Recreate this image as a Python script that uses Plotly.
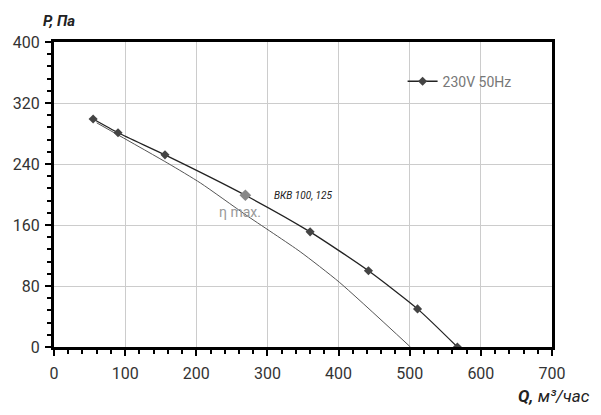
import plotly.graph_objects as go

# fan curve 230V 50Hz
q_fan = [55, 90, 156, 269, 360, 442, 511, 567]
p_fan = [299, 281, 252, 199, 151, 100, 50, 0]

# eta max line
q_eta = [60, 160, 206, 270, 346, 401, 501]
p_eta = [294, 241, 215, 173, 125, 85, 0]

# eta max point on the fan curve
q_best = [269]
p_best = [199]

x_ticks = [0, 100, 200, 300, 400, 500, 600, 700]
y_ticks = [0, 80, 160, 240, 320, 400]

fig = go.Figure()

fig.add_trace(go.Scatter(
    x=q_eta, y=p_eta, mode="lines", showlegend=False,
    line=dict(color="#555555", width=1, shape="spline", smoothing=0.6),
))
fig.add_trace(go.Scatter(
    x=q_fan, y=p_fan, mode="lines+markers", name="230V 50Hz",
    line=dict(color="#222222", width=1.3, shape="spline", smoothing=0.6),
    marker=dict(symbol="diamond", size=7, color="#444444"),
))
fig.add_trace(go.Scatter(
    x=q_best, y=p_best, mode="markers", showlegend=False,
    marker=dict(symbol="diamond", size=9, color="#888888"),
))

fig.add_annotation(x=307, y=p_best[0], text="<i>ВКВ 100, 125</i>",
                   showarrow=False, xanchor="left", yanchor="middle",
                   font=dict(size=10, color="#222222"))
fig.add_annotation(x=q_best[0] - 40, y=p_best[0] - 22, text="η max.",
                   showarrow=False, xanchor="left", yanchor="middle",
                   font=dict(size=14, color="#999999"))

# axis titles
fig.add_annotation(xref="paper", yref="paper", x=-0.026, y=1.07,
                   text="<b><i>P, Па</i></b>", showarrow=False,
                   xanchor="left", yanchor="middle",
                   font=dict(size=15, color="#222222"))
fig.add_annotation(xref="paper", yref="paper", x=1.08, y=-0.16,
                   text="<b><i>Q,</i></b> <i>м³/час</i>", showarrow=False,
                   xanchor="right", yanchor="middle",
                   font=dict(size=17, color="#222222"))

axis_common = dict(
    showline=True, linecolor="black", linewidth=3, mirror=True,
    showgrid=True, gridcolor="#cccccc", gridwidth=1,
    ticks="outside", ticklen=6, tickwidth=2, tickcolor="black",
    zeroline=False, automargin=False,
    tickfont=dict(size=16, color="#333333"),
)

fig.update_xaxes(range=[0, 700], tickvals=x_ticks, ticklabelstandoff=4,
                 minor=dict(dtick=20, ticks="outside", ticklen=4,
                            tickcolor="black", tickwidth=2, showgrid=False),
                 **axis_common)
fig.update_yaxes(range=[0, 400], tickvals=y_ticks, ticklabelstandoff=2,
                 minor=dict(dtick=16, ticks="outside", ticklen=4,
                            tickcolor="black", tickwidth=2, showgrid=False),
                 **axis_common)

fig.update_layout(
    width=601, height=415,
    margin=dict(l=46, r=57, t=34, b=76),
    plot_bgcolor="white", paper_bgcolor="white",
    font=dict(family="Roboto, Liberation Sans, Arial", color="#333333"),
    legend=dict(x=0.70, y=0.87, xanchor="left", yanchor="middle",
                bgcolor="rgba(0,0,0,0)", font=dict(size=14, color="#777777")),
)

fig.write_html("out.html")
